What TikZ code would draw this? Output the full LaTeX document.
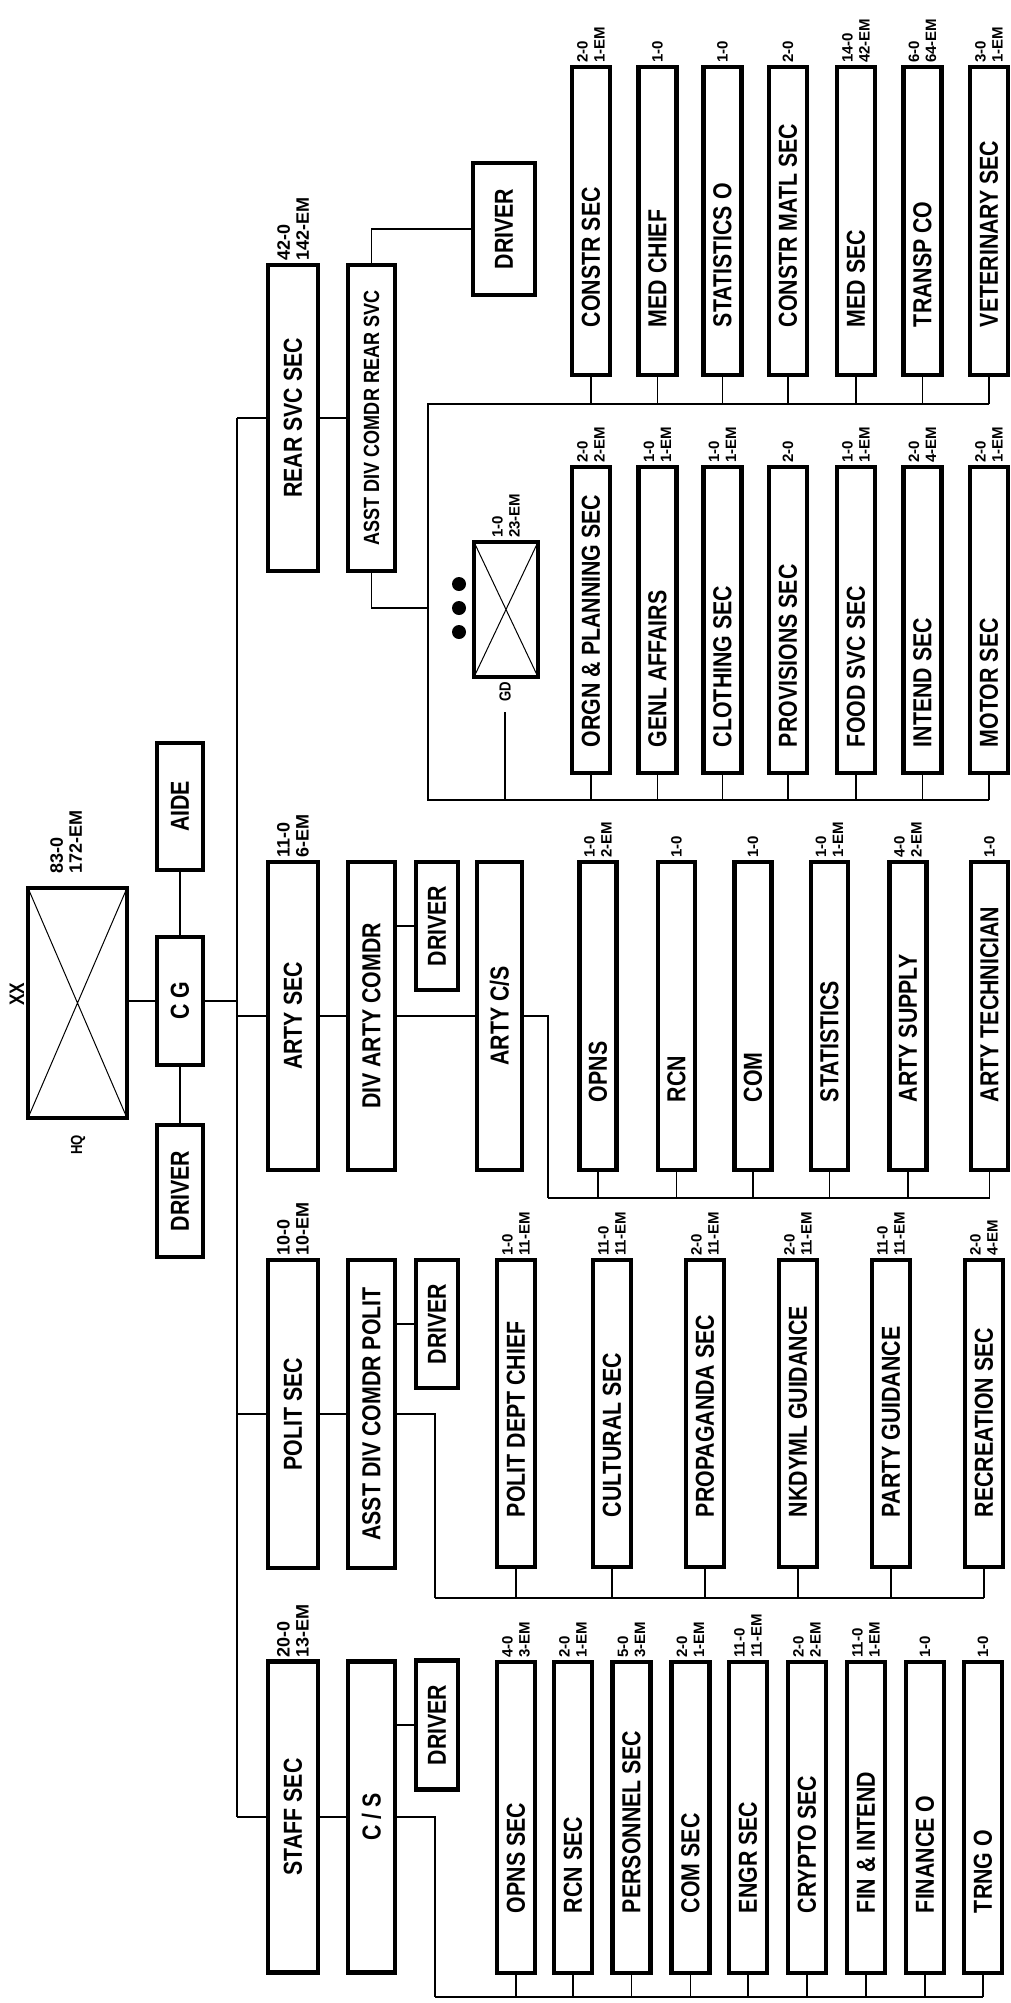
\documentclass[tikz,border=0pt]{standalone}
\usepackage{fontspec}
\setmainfont{Liberation Sans}[FakeStretch=0.82]
\newfontfamily\labelfont{Liberation Sans}
\usepackage{tikz}

\newcommand{\boxfont}{\fontsize{26}{28}\selectfont\bfseries}
\newcommand{\uptext}[1]{\rotatebox{90}{#1}}
\newcommand{\lefttext}[2]{\rotatebox{90}{\makebox[#1][l]{#2}}}

\begin{document}
\begin{tikzpicture}[x=1pt, y=-1pt,
    unit/.style={draw, line width=4.5pt, inner sep=0pt, outer sep=0pt, font=\boxfont},
    strength/.style={rotate=90, anchor=west, align=left, inner sep=0pt,
        font=\labelfont\fontsize{15}{17}\selectfont\bfseries},
    bigstrength/.style={strength, font=\labelfont\fontsize{18}{19}\selectfont\bfseries},
    tag/.style={rotate=90, inner sep=0pt, font=\fontsize{16}{17}\selectfont\bfseries},
    link/.style={line width=1.5pt},
    bus/.style={line width=2.5pt},
    dot/.style={circle, fill, inner sep=0pt, minimum size=14pt}]
    \useasboundingbox (0,0) rectangle (1011,2003);

    % 1. Division HQ and its immediate staff
    \node[unit, minimum width=99pt, minimum height=230pt] (hq) at (77.5,1003) {};
    \draw[line width=1pt] (hq.north west) -- (hq.south east) (hq.north east) -- (hq.south west);
    \node[tag, font=\fontsize{21}{22}\selectfont\bfseries] (xx) at (17,994) {XX};
    \node[bigstrength] (lhq) at (66,874) {83-0\\172-EM};
    \node[tag] (hqname) at (78,1145) {HQ};
    \node[unit, minimum width=46pt, minimum height=127pt] (aide) at (180,806.5) {\uptext{AIDE}};
    \node[unit, minimum width=46pt, minimum height=128pt] (cg) at (180,1001) {\uptext{C G}};
    \node[unit, minimum width=46pt, minimum height=132pt] (drvhq) at (180,1191) {\uptext{DRIVER}};
    \draw[link] (cg.west) -- (cg.west -| hq.east);
    \draw[link] (cg.north) -- (aide.south);
    \draw[link] (cg.south) -- (drvhq.north);

    % 2. Main bus to the four sections
    \coordinate (bustop) at (237,418);
    \coordinate (busbot) at (237,1817);
    \draw[link] (cg.east) -- (cg.east -| bustop);
    \draw[bus] (bustop) -- (busbot);

    % 3. Sections
    \node[unit, minimum width=50pt, minimum height=306pt] (rearsec) at (293,418) {\uptext{REAR SVC SEC}};
    \node[unit, minimum width=50pt, minimum height=308pt] (artysec) at (293,1016) {\uptext{ARTY SEC}};
    \node[unit, minimum width=50pt, minimum height=308pt] (politsec) at (293,1414) {\uptext{POLIT SEC}};
    \node[unit, minimum width=50pt, minimum height=311pt] (staffsec) at (293,1817) {\uptext{STAFF SEC}};
    \node[bigstrength] (lrearsec) at ([yshift=4pt]rearsec.north) {42-0\\142-EM};
    \node[bigstrength] (lartysec) at ([yshift=4pt]artysec.north) {11-0\\6-EM};
    \node[bigstrength] (lpolitsec) at ([yshift=4pt]politsec.north) {10-0\\10-EM};
    \node[bigstrength] (lstaffsec) at ([yshift=4pt]staffsec.north) {20-0\\13-EM};
    \draw[link] (bustop) -- (rearsec.west);
    \draw[link] (artysec.west -| bustop) -- (artysec.west);
    \draw[link] (politsec.west -| bustop) -- (politsec.west);
    \draw[link] (busbot) -- (staffsec.west);

    % 4. Chiefs of the sections
    \node[unit, minimum width=47pt, minimum height=306pt, font=\fontsize{22}{24}\selectfont\bfseries] (asstrear) at (371.5,418) {\uptext{ASST DIV COMDR REAR SVC}};
    \node[unit, minimum width=47pt, minimum height=308pt] (divarty) at (371.5,1016) {\uptext{DIV ARTY COMDR}};
    \node[unit, minimum width=47pt, minimum height=308pt] (asstpolit) at (371.5,1414) {\uptext{ASST DIV COMDR POLIT}};
    \node[unit, minimum width=47pt, minimum height=311pt] (cs) at (371.5,1817) {\uptext{C / S}};
    \draw[link] (rearsec.east) -- (asstrear.west);
    \draw[link] (artysec.east) -- (divarty.west);
    \draw[link] (politsec.east) -- (asstpolit.west);
    \draw[link] (staffsec.east) -- (cs.west);

    % 5. Drivers
    \node[unit, minimum width=62pt, minimum height=132pt] (drvrear) at (504,229) {\uptext{DRIVER}};
    \node[unit, minimum width=42pt, minimum height=128pt] (drvarty) at (437,926) {\uptext{DRIVER}};
    \node[unit, minimum width=42pt, minimum height=128pt] (drvpolit) at (437,1324) {\uptext{DRIVER}};
    \node[unit, minimum width=42pt, minimum height=129pt] (drvstaff) at (437,1725) {\uptext{DRIVER}};
    \draw[link] (asstrear.north) |- (drvrear.west);
    \draw[link] (drvarty.west -| divarty.east) -- (drvarty.west);
    \draw[link] (drvpolit.west -| asstpolit.east) -- (drvpolit.west);
    \draw[link] (drvstaff.west -| cs.east) -- (drvstaff.west);

    % 6. Rear services: two rows of sub-units
    \coordinate (rtop) at (428,404);
    \coordinate (rbot) at (428,800);
    \coordinate (rjoin) at (428,608);
    \draw[link] (asstrear.south) |- (rjoin);
    \foreach \i/\x/\nm/\sn in {1/591/{CONSTR SEC}/{2-0\\1-EM}, 2/657.5/{MED CHIEF}/{1-0},
        3/722.5/{STATISTICS O}/{1-0}, 4/788/{CONSTR MATL SEC}/{2-0},
        5/856/{MED SEC}/{14-0\\42-EM}, 6/922.5/{TRANSP CO}/{6-0\\64-EM},
        7/989/{VETERINARY SEC}/{3-0\\1-EM}} {
      \node[unit, minimum width=38pt, minimum height=308pt] (rt\i) at (\x,221) {\lefttext{212pt}{\nm}};
      \node[strength] (lrt\i) at ([yshift=4pt]rt\i.north) {\sn};
      \draw[link] (rt\i.south) -- (rt\i.south |- rtop);
    }
    \foreach \i/\x/\nm/\sn in {1/591/{ORGN \& PLANNING SEC}/{2-0\\2-EM}, 2/657.5/{GENL AFFAIRS}/{1-0\\1-EM},
        3/722.5/{CLOTHING SEC}/{1-0\\1-EM}, 4/788/{PROVISIONS SEC}/{2-0},
        5/856/{FOOD SVC SEC}/{1-0\\1-EM}, 6/922.5/{INTEND SEC}/{2-0\\4-EM},
        7/989/{MOTOR SEC}/{2-0\\1-EM}} {
      \node[unit, minimum width=38pt, minimum height=306pt] (rl\i) at (\x,620) {\lefttext{254pt}{\nm}};
      \node[strength] (lrl\i) at ([yshift=4pt]rl\i.north) {\sn};
      \draw[link] (rl\i.south) -- (rl\i.south |- rbot);
    }
    \draw[bus] (rtop -| rt7.south) -- (rtop) -- (rbot) -- (rbot -| rl7.south);

    % 7. Guard unit
    \node[unit, minimum width=64pt, minimum height=135pt] (gd) at (506,609.5) {};
    \draw[line width=1pt] (gd.north west) -- (gd.south east) (gd.north east) -- (gd.south west);
    \node[strength] (lgd) at ([yshift=4pt]gd.north) {1-0\\23-EM};
    \foreach \i/\y in {1/584, 2/608, 3/632}
      \node[dot] (dot\i) at (459,\y) {};
    \node[tag] (gdname) at (505,692) {GD};
    \draw[link] ([yshift=-10pt]gdname.west) -- (gdname.west |- rbot);

    % 8. Artillery
    \node[unit, minimum width=45pt, minimum height=308pt] (artycs) at (499.5,1016) {\uptext{ARTY C/S}};
    \draw[link] (divarty.east) -- (artycs.west);
    \coordinate (abus) at (548,1198);
    \draw[link] (artycs.east) -| (abus);
    \foreach \i/\x/\nm/\sn in {1/598/OPNS/{1-0\\2-EM}, 2/676.5/RCN/{1-0}, 3/753/COM/{1-0},
        4/829.5/STATISTICS/{1-0\\1-EM}, 5/908/{ARTY SUPPLY}/{4-0\\2-EM},
        6/989.5/{ARTY TECHNICIAN}/{1-0}} {
      \node[unit, minimum width=37pt, minimum height=308pt] (a\i) at (\x,1016) {\lefttext{172pt}{\nm}};
      \node[strength] (la\i) at ([yshift=4pt]a\i.north) {\sn};
      \draw[link] (a\i.south) -- (a\i.south |- abus);
    }
    \draw[bus] (abus) -- (abus -| a6.south);

    % 9. Political section
    \coordinate (pbus) at (435,1598);
    \draw[link] (asstpolit.east) -| (pbus);
    \foreach \i/\x/\nm/\sn in {1/516/{POLIT DEPT CHIEF}/{1-0\\11-EM}, 2/612/{CULTURAL SEC}/{11-0\\11-EM},
        3/705/{PROPAGANDA SEC}/{2-0\\11-EM}, 4/798/{NKDYML GUIDANCE}/{2-0\\11-EM},
        5/891/{PARTY GUIDANCE}/{11-0\\11-EM}, 6/984/{RECREATION SEC}/{2-0\\4-EM}} {
      \node[unit, minimum width=38pt, minimum height=307pt] (p\i) at (\x,1413.5) {\lefttext{207pt}{\nm}};
      \node[strength] (lp\i) at ([yshift=4pt]p\i.north) {\sn};
      \draw[link] (p\i.south) -- (p\i.south |- pbus);
    }
    \draw[bus] (pbus) -- (pbus -| p6.south);

    % 10. Staff section
    \coordinate (sbus) at (435,1997);
    \draw[link] (cs.east) -| (sbus);
    \foreach \i/\x/\nm/\sn in {1/516/{OPNS SEC}/{4-0\\3-EM}, 2/573/{RCN SEC}/{2-0\\1-EM},
        3/631.5/{PERSONNEL SEC}/{5-0\\3-EM}, 4/690.5/{COM SEC}/{2-0\\1-EM},
        5/748/{ENGR SEC}/{11-0\\11-EM}, 6/807/{CRYPTO SEC}/{2-0\\2-EM},
        7/866/{FIN \& INTEND}/{11-0\\1-EM}, 8/925/{FINANCE O}/{1-0}, 9/983/{TRNG O}/{1-0}} {
      \node[unit, minimum width=38pt, minimum height=311pt] (s\i) at (\x,1817.5) {\lefttext{191pt}{\nm}};
      \node[strength] (ls\i) at ([yshift=4pt]s\i.north) {\sn};
      \draw[link] (s\i.south) -- (s\i.south |- sbus);
    }
    \draw[bus] (sbus) -- (sbus -| s9.south);
\end{tikzpicture}
\end{document}
